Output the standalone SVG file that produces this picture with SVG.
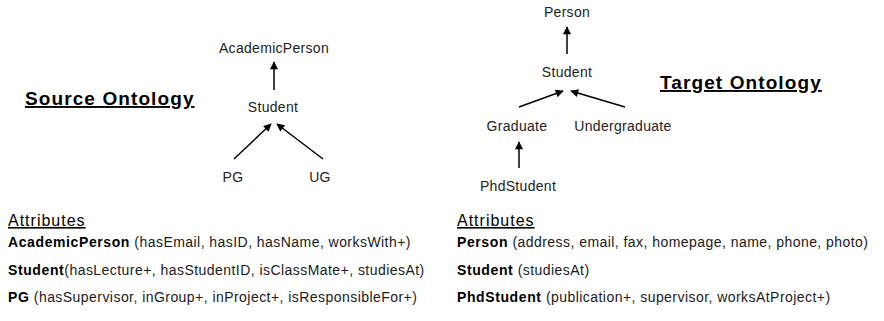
<svg xmlns="http://www.w3.org/2000/svg" width="884" height="321" viewBox="0 0 884 321">
  <defs>
    <marker id="arrow" viewBox="0 0 10 10" refX="9" refY="5" markerWidth="9" markerHeight="8" markerUnits="userSpaceOnUse" orient="auto">
      <path d="M0,0 L10,5 L0,10 z" fill="#000"/>
    </marker>
    <style>
      text { font-family: "Liberation Sans", Arial, sans-serif; fill: #1a1a1a; }
      .node { font-size: 14px; letter-spacing: 0.3px; text-anchor: middle; fill: #222; }
      .title { font-size: 19px; font-weight: bold; letter-spacing: 1.1px; text-decoration: underline; fill: #000; }
      .head { font-size: 16px; letter-spacing: 1px; text-decoration: underline; fill: #000; }
      .attr { font-size: 14px; letter-spacing: 0.45px; }
      .attr tspan.b { font-weight: bold; letter-spacing: 0.6px; fill: #000; }
      .edge { stroke: #000; stroke-width: 1.5; fill: none; marker-end: url(#arrow); }
    </style>
  </defs>
  <rect width="884" height="321" fill="#fff"/>

  <!-- headings -->
  <text class="title" x="25" y="105">Source Ontology</text>
  <text class="title" x="660" y="89">Target Ontology</text>

  <!-- source ontology nodes -->
  <g id="src-academicperson"><text class="node" x="274" y="53">AcademicPerson</text></g>
  <g id="src-student"><text class="node" x="273" y="112">Student</text></g>
  <g id="src-pg"><text class="node" x="233" y="182">PG</text></g>
  <g id="src-ug"><text class="node" x="320" y="182">UG</text></g>

  <!-- target ontology nodes -->
  <g id="tgt-person"><text class="node" x="567" y="17">Person</text></g>
  <g id="tgt-student"><text class="node" x="567" y="77">Student</text></g>
  <g id="tgt-graduate"><text class="node" x="517" y="131">Graduate</text></g>
  <g id="tgt-undergraduate"><text class="node" x="623" y="131">Undergraduate</text></g>
  <g id="tgt-phdstudent"><text class="node" x="518" y="191">PhdStudent</text></g>

  <!-- subclass connectors -->
  <g id="connectors">
    <line class="edge" x1="274" y1="90" x2="274" y2="62"/>
    <line class="edge" x1="234" y1="159" x2="271" y2="124"/>
    <line class="edge" x1="323" y1="159" x2="277" y2="124"/>
    <line class="edge" x1="567" y1="54" x2="567" y2="27"/>
    <line class="edge" x1="519" y1="107" x2="563" y2="91"/>
    <line class="edge" x1="625" y1="107" x2="571" y2="91"/>
    <line class="edge" x1="519" y1="168" x2="519" y2="142"/>
  </g>

  <!-- attribute lists -->
  <g id="src-attributes">
    <text class="head" x="8" y="226">Attributes</text>
    <text class="attr" x="8" y="247"><tspan class="b">AcademicPerson</tspan> (hasEmail, hasID, hasName, worksWith+)</text>
    <text class="attr" x="8" y="275"><tspan class="b">Student</tspan>(hasLecture+, hasStudentID, isClassMate+, studiesAt)</text>
    <text class="attr" x="8" y="302"><tspan class="b">PG</tspan> (hasSupervisor, inGroup+, inProject+, isResponsibleFor+)</text>
  </g>
  <g id="tgt-attributes">
    <text class="head" x="457" y="226">Attributes</text>
    <text class="attr" x="457" y="247"><tspan class="b">Person</tspan> (address, email, fax, homepage, name, phone, photo)</text>
    <text class="attr" x="457" y="275"><tspan class="b">Student</tspan> (studiesAt)</text>
    <text class="attr" x="457" y="302"><tspan class="b">PhdStudent</tspan> (publication+, supervisor, worksAtProject+)</text>
  </g>
</svg>
